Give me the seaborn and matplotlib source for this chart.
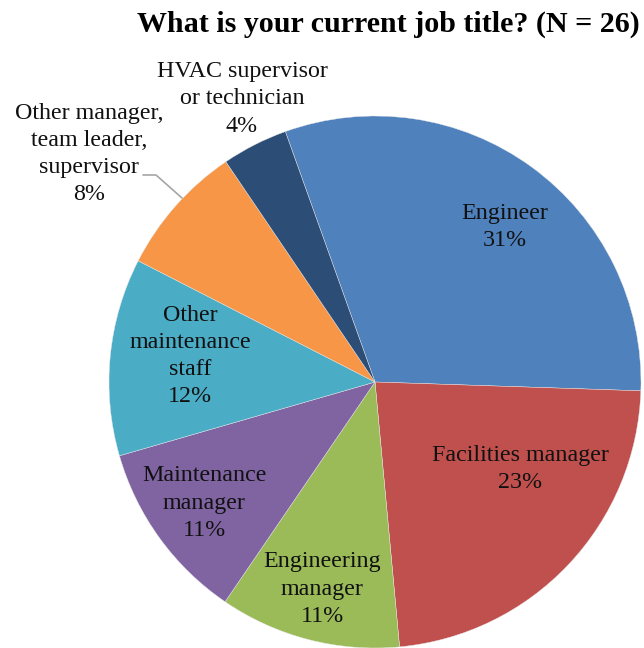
import matplotlib
matplotlib.use("Agg")
import matplotlib.pyplot as plt
import seaborn as sns

sns.set_theme(style="white")
plt.rcParams["font.family"] = ["Liberation Serif", "DejaVu Serif"]

# Survey responses by job title (percent of respondents)
categories = [
    "Engineer",
    "Facilities manager",
    "Engineering manager",
    "Maintenance manager",
    "Other maintenance staff",
    "Other manager, team leader, supervisor",
    "HVAC supervisor or technician",
]
label_text = [
    "Engineer\n31%",
    "Facilities manager\n23%",
    "Engineering\nmanager\n11%",
    "Maintenance\nmanager\n11%",
    "Other\nmaintenance\nstaff\n12%",
    "Other manager,\nteam leader,\nsupervisor\n8%",
    "HVAC supervisor\nor technician\n4%",
]
shares = [31, 23, 11, 11, 12, 8, 4]
colors = ["#4F81BD", "#C0504D", "#9BBB59", "#8064A2", "#4BACC6", "#F79646", "#2C4D75"]

W, H = 644, 648
fig = plt.figure(figsize=(W / 100, H / 100), dpi=100)
ax = fig.add_axes([0, 0, 1, 1])

cx, cy, r = 375, H - 382, 266
wedges, _ = ax.pie(
    shares,
    colors=colors,
    startangle=109.7,
    counterclock=False,
    center=(cx, cy),
    radius=r,
    wedgeprops=dict(linewidth=0.3, edgecolor="#e8e8e8"),
)
ax.set_xlim(0, W)
ax.set_ylim(0, H)
ax.set_aspect("equal")
ax.axis("off")

# label anchor points in pixel coordinates (x, y from top)
label_pos = [
    (505, 227),
    (520, 469),
    (322, 589),
    (204, 503),
    (190, 356),
    (89, 154),
    (242, 99),
]
for txt, (x, y) in zip(label_text, label_pos):
    ax.text(x, H - y, txt, ha="center", va="center", fontsize=17.3,
            color="#111111", linespacing=1.38)

# leader line for the small orange slice
ax.plot([143, 156, 182], [H - 175, H - 175, H - 198], color="#a6a6a6", lw=1.2)

fig.text(388 / W, 1 - 24 / H, "What is your current job title? (N = 26)",
         ha="center", va="center", fontsize=21.6, fontweight="bold", color="black")

fig.savefig("out.png", dpi=100)
